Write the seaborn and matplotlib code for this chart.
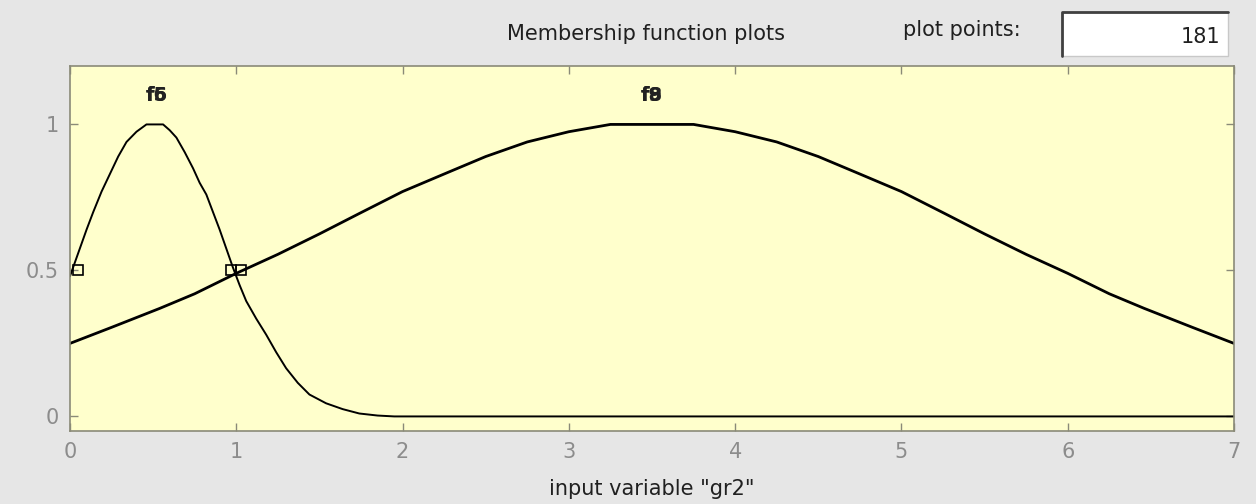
import matplotlib
matplotlib.use("Agg")
import matplotlib.pyplot as plt
import seaborn as sns
import pandas as pd
from matplotlib.patches import Rectangle
from matplotlib.lines import Line2D

# values
x_narrow = [0.0, 0.05, 0.10, 0.14, 0.19, 0.24, 0.29, 0.34, 0.40, 0.46, 0.56,
            0.60, 0.64, 0.69, 0.74, 0.78, 0.82, 0.86, 0.90, 0.94, 0.98, 1.02,
            1.06, 1.12, 1.18, 1.24, 1.30, 1.37, 1.44, 1.54, 1.64, 1.74, 1.85,
            1.95, 7.0]
y_narrow = [0.48, 0.56, 0.64, 0.70, 0.77, 0.83, 0.89, 0.94, 0.975, 1.0, 1.0,
            0.98, 0.955, 0.905, 0.85, 0.80, 0.76, 0.70, 0.64, 0.575, 0.51, 0.45,
            0.395, 0.335, 0.28, 0.22, 0.165, 0.115, 0.075, 0.045, 0.025, 0.01,
            0.003, 0.0, 0.0]

x_wide = [0.0, 0.25, 0.54, 0.75, 1.0, 1.25, 1.5, 1.74, 2.0, 2.27, 2.5, 2.75,
          3.0, 3.25, 3.75, 4.0, 4.25, 4.5, 4.73, 5.0, 5.26, 5.5, 5.75, 6.0,
          6.25, 6.46, 6.75, 7.0]
y_wide = [0.25, 0.305, 0.37, 0.42, 0.49, 0.555, 0.625, 0.695, 0.77, 0.835,
          0.89, 0.94, 0.975, 1.0, 1.0, 0.975, 0.94, 0.89, 0.835, 0.77, 0.695,
          0.625, 0.555, 0.49, 0.42, 0.37, 0.305, 0.25]

marker_x = [0.05, 0.97, 1.03]
marker_y = [0.5, 0.5, 0.5]

mf_labels = [("f5", 0.52), ("f6", 0.52), ("f8", 3.5), ("f9", 3.5)]
label_y = 1.10

x_ticks = [0, 1, 2, 3, 4, 5, 6, 7]
y_ticks = [0, 0.5, 1]
y_tick_labels = ["0", "0.5", "1"]
plot_points = "181"

sns.set_style("white")
plt.rcParams["font.family"] = ["DejaVu Sans"]

fig_bg = "#E6E6E6"
ax_bg = "#FFFFCC"
spine_col = "#8A8A78"
tick_col = "#8C8C8C"

fig = plt.figure(figsize=(12.56, 5.04), dpi=100, facecolor=fig_bg)
ax = fig.add_axes([0.0557, 0.1448, 0.9268, 0.7242], facecolor=ax_bg)

df_n = pd.DataFrame({"x": x_narrow, "y": y_narrow})
df_w = pd.DataFrame({"x": x_wide, "y": y_wide})
sns.lineplot(data=df_n, x="x", y="y", color="black", linewidth=1.4, ax=ax,
             sort=False, estimator=None)
sns.lineplot(data=df_w, x="x", y="y", color="black", linewidth=2.0, ax=ax,
             sort=False, estimator=None)
ax.plot(marker_x, marker_y, linestyle="none", marker="s", markersize=7,
        markerfacecolor="none", markeredgecolor="black", markeredgewidth=1.2)

for lab, lx in mf_labels:
    ax.text(lx, label_y, lab, ha="center", va="center", fontsize=14,
            fontweight="bold", color="#222222")

ax.set_xlim(0, 7)
ax.set_ylim(-0.05, 1.2)
ax.set_xticks(x_ticks)
ax.set_xticklabels([str(t) for t in x_ticks])
ax.set_yticks(y_ticks)
ax.set_yticklabels(y_tick_labels)
ax.tick_params(direction="in", length=6, width=1, color=spine_col,
               labelcolor=tick_col, labelsize=15, top=True, right=True,
               left=True, bottom=True, pad=8)
for s in ax.spines.values():
    s.set_color(spine_col)
    s.set_linewidth(1.2)
ax.set_xlabel('input variable "gr2"', fontsize=15, color="#202020", labelpad=12)
ax.set_ylabel("")

# header texts
fig.text(0.514, 0.933, "Membership function plots", ha="center", va="center",
         fontsize=15, color="#202020")
fig.text(0.766, 0.94, "plot points:", ha="center", va="center",
         fontsize=15, color="#202020")

# plot points edit box
bx0, by0, bw, bh = 1062 / 1256, 1 - 56 / 504, 166 / 1256, 44 / 504
fig.patches.append(Rectangle((bx0, by0), bw, bh, transform=fig.transFigure,
                             facecolor="white", edgecolor="#C8C8C8",
                             linewidth=1))
fig.lines.append(Line2D([bx0, bx0, bx0 + bw], [by0, by0 + bh, by0 + bh],
                        transform=fig.transFigure, color="#404040",
                        linewidth=2))
fig.text(bx0 + bw - 0.006, by0 + bh / 2 - 0.005, plot_points, ha="right",
         va="center", fontsize=15, color="#202020")

fig.savefig("out.png", dpi=100, facecolor=fig_bg)
